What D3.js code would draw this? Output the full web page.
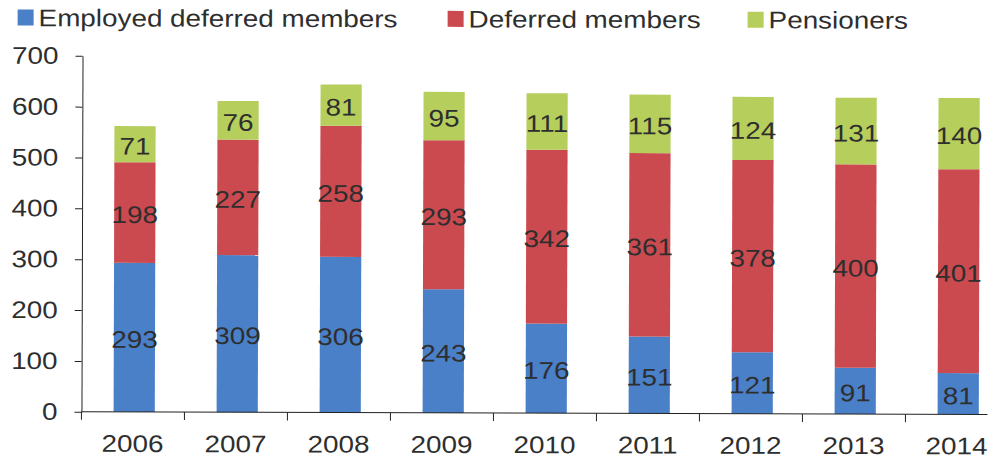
<!DOCTYPE html>
<html>
<head>
<meta charset="utf-8">
<script src="https://cdn.jsdelivr.net/npm/d3@7"></script>
<style>
  html, body { margin: 0; padding: 0; background: #fff; }
  svg { display: block; font-family: "Liberation Sans", Arial, sans-serif; }
</style>
</head>
<body>
<svg id="chart" width="995" height="458"></svg>
<script>
// Membership by year (thousands), stacked bottom to top
const years = ["2006", "2007", "2008", "2009", "2010", "2011", "2012", "2013", "2014"];
const employedDeferred = [293, 309, 306, 243, 176, 151, 121, 91, 81];
const deferred = [198, 227, 258, 293, 342, 361, 378, 400, 401];
const pensioners = [71, 76, 81, 95, 111, 115, 124, 131, 140];
const seriesNames = ["Employed deferred members", "Deferred members", "Pensioners"];
const yTicks = [0, 100, 200, 300, 400, 500, 600, 700];

const colors = ["#4a80c8", "#ca4a50", "#b6ce5c"];
const textColor = "#2e2e2e";
const fontSize = 24;
const stretch = 1.16;   // wide lettering

const svg = d3.select("#chart");
// the whole drawing sits at a very slight clockwise tilt
const root = svg.append("g").attr("transform", "translate(0,1) rotate(0.17 497 229)");
const plotLeft = 82, plotBottom = 412, plotTop = 56, axisEnd = 988;

// widen a text element horizontally about its own anchor point
function widen(sel) {
  sel.each(function () {
    const t = d3.select(this);
    const tx = +t.attr("x") || 0, ty = +t.attr("y") || 0;
    t.attr("x", 0).attr("y", 0)
      .attr("transform", `translate(${tx},${ty}) scale(${stretch},1)`);
  });
}

const rows = years.map((yr, i) => ({
  year: yr,
  [seriesNames[0]]: employedDeferred[i],
  [seriesNames[1]]: deferred[i],
  [seriesNames[2]]: pensioners[i]
}));
const stacked = d3.stack().keys(seriesNames)(rows);

const x = d3.scaleBand().domain(years)
  .range([plotLeft, plotLeft + 103 * years.length])
  .paddingInner(0.6).paddingOuter(0.3).align(0.52);
const y = d3.scaleLinear().domain([0, 700]).range([plotBottom, plotTop]);

// clip the x axis at the right edge of the plot
svg.append("defs").append("clipPath").attr("id", "plotClip")
  .append("rect").attr("x", 0).attr("y", 0).attr("width", axisEnd).attr("height", 458);

// bars
const layers = root.append("g").selectAll("g").data(stacked).join("g")
  .attr("fill", (d, i) => colors[i]);
layers.selectAll("rect").data(d => d).join("rect")
  .attr("x", d => x(d.data.year))
  .attr("width", x.bandwidth())
  .attr("y", d => y(d[1]))
  .attr("height", d => y(d[0]) - y(d[1]));

// value labels centred in each segment
const labels = root.append("g").attr("font-size", fontSize).attr("fill", textColor).attr("text-anchor", "middle");
stacked.forEach(layer => {
  labels.append("g").selectAll("text").data(layer).join("text")
    .attr("x", d => x(d.data.year) + x.bandwidth() / 2)
    .attr("y", d => (y(d[0]) + y(d[1])) / 2 + 2)
    .attr("dy", "0.35em")
    .text(d => d[1] - d[0])
    .call(widen);
});

// y axis
const yAxis = root.append("g").attr("transform", `translate(${plotLeft},0)`)
  .call(d3.axisLeft(y).tickValues(yTicks).tickSize(7).tickPadding(17).tickSizeOuter(0));
yAxis.selectAll("text").attr("font-size", fontSize).attr("fill", textColor)
  .attr("font-family", "Liberation Sans, Arial, sans-serif").call(widen);
yAxis.selectAll("line, path").attr("stroke", "#222");

// x axis: ticks at category boundaries, labels at band centres
const step = x.step();
const boundaries = years.map((yr, i) => plotLeft + i * step).concat([plotLeft + years.length * step]);
const xAxisG = root.append("g").attr("clip-path", "url(#plotClip)");
xAxisG.append("line")
  .attr("x1", plotLeft).attr("x2", x.range()[1])
  .attr("y1", plotBottom).attr("y2", plotBottom).attr("stroke", "#222");
xAxisG.selectAll("line.tick").data(boundaries).join("line")
  .attr("class", "tick")
  .attr("x1", d => d).attr("x2", d => d)
  .attr("y1", plotBottom).attr("y2", plotBottom + 8).attr("stroke", "#222");
root.append("g").selectAll("text").data(years).join("text")
  .attr("x", d => x(d) + x.bandwidth() / 2 - 1.5)
  .attr("y", 452)
  .attr("text-anchor", "middle")
  .attr("font-size", fontSize)
  .attr("fill", textColor)
  .text(d => d)
  .call(widen);

// legend
const legendX = [17, 447, 747];
const legend = root.append("g").selectAll("g").data(seriesNames).join("g")
  .attr("transform", (d, i) => `translate(${legendX[i]},0)`);
legend.append("rect").attr("x", 0).attr("y", 10).attr("width", 16).attr("height", 16)
  .attr("fill", (d, i) => colors[i]);
legend.append("text").attr("x", 21).attr("y", 26.5).attr("font-size", fontSize).attr("fill", textColor)
  .text(d => d)
  .call(widen);
</script>
</body>
</html>
